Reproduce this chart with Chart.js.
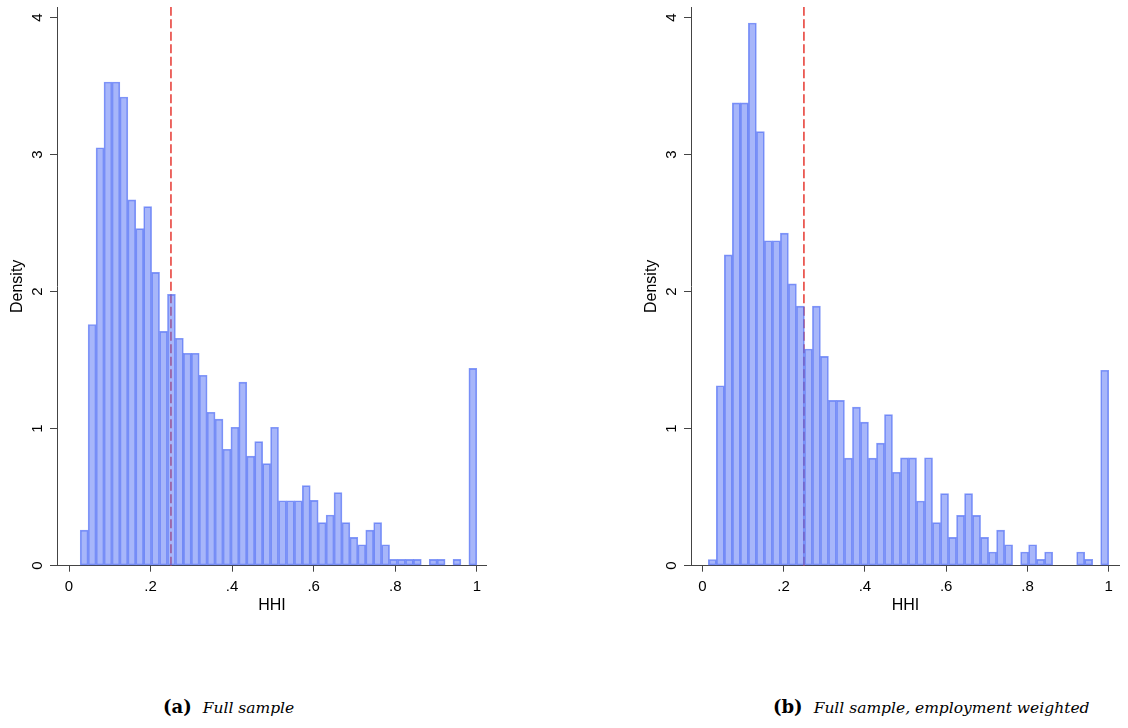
<!DOCTYPE html>
<html>
<head>
<meta charset="utf-8">
<script src="https://cdn.jsdelivr.net/npm/chart.js@4.4.1/dist/chart.umd.min.js"></script>
<style>
  body { margin: 0; background: #fff; width: 1128px; height: 728px; position: relative; overflow: hidden; }
  .panel { position: absolute; top: 0; }
  .caption { position: absolute; top: 697px; font-family: "DejaVu Serif", serif; font-size: 15.5px; line-height: 20px; color: #000; white-space: nowrap; }
  .caption b { font-size: 18px; margin-right: 11px; }
</style>
</head>
<body>
<canvas id="chartA" class="panel" style="left:0px" width="487" height="640"></canvas>
<canvas id="chartB" class="panel" style="left:634px" width="486" height="640"></canvas>
<div class="caption" style="left:163px"><b>(a)</b><i>Full sample</i></div>
<div class="caption" style="left:773px"><b>(b)</b><i>Full sample, employment weighted</i></div>
<script>
// histogram bins (HHI), density per bin
const hhiTicks = [0, 0.2, 0.4, 0.6, 0.8, 1];
const densityTicks = [0, 1, 2, 3, 4];
const cutoff = 0.25;

const binStartA = 0.0275, binWidthA = 0.01945;
const densityA = [0.26, 1.76, 3.05, 3.53, 3.53, 3.42, 2.67, 2.46, 2.62, 2.14,
                  1.71, 1.98, 1.66, 1.55, 1.55, 1.39, 1.12, 1.07, 0.85, 1.01,
                  1.34, 0.80, 0.905, 0.745, 1.01, 0.474, 0.474, 0.474, 0.584, 0.477,
                  0.314, 0.37, 0.533, 0.314, 0.207, 0.153, 0.26, 0.314, 0.153, 0.046,
                  0.046, 0.046, 0.046, 0, 0.046, 0.046, 0, 0.046, 0, 1.44];

const binStartB = 0.0148, binWidthB = 0.0197;
const densityB = [0.045, 1.313, 2.268, 3.377, 3.377, 3.96, 3.167, 2.371, 2.371, 2.427,
                  2.056, 1.894, 1.581, 1.894, 1.528, 1.207, 1.207, 0.785, 1.157, 1.048,
                  0.785, 0.894, 1.103, 0.682, 0.787, 0.787, 0.472, 0.788, 0.314, 0.526,
                  0.207, 0.367, 0.526, 0.367, 0.207, 0.10, 0.26, 0.153, 0, 0.10,
                  0.153, 0.046, 0.10, 0, 0, 0, 0.10, 0.046, 0, 1.426];

const yTop = 4.077;
const font = "'Liberation Sans', Arial, sans-serif";
const axisColor = "#444";

function hhiLabel(v) {
    if (v === 0) return "0";
    if (v === 1) return "1";
    return Number(v.toFixed(1)).toString().replace(/^0\./, ".");
}

function makeChart(id, binStart, binWidth, densities, xMin, xMax) {
    let bars = [];
    densities.forEach((d, i) => {
        if (d > 0) bars.push({ x: binStart + binWidth * (i + 0.5), y: d });
    });
    return new Chart(document.getElementById(id), {
        type: "bar",
        data: {
            datasets: [
                {
                    data: bars,
                    backgroundColor: "rgba(80,110,245,0.5)",
                    borderColor: "rgba(80,110,245,0.7)",
                    borderWidth: 1,
                    borderSkipped: false,
                    categoryPercentage: 1.0,
                    barPercentage: 1.0,
                    order: 0
                },
                {
                    type: "line",
                    data: [{ x: cutoff, y: 0 }, { x: cutoff, y: yTop }],
                    borderColor: "#e8433d",
                    borderWidth: 1.6,
                    borderDash: [9, 3.5],
                    pointRadius: 0,
                    order: 1
                }
            ]
        },
        options: {
            responsive: false,
            animation: false,
            devicePixelRatio: 1,
            layout: { padding: { top: 7, left: 0, right: 0, bottom: 0 } },
            plugins: { legend: { display: false }, tooltip: { enabled: false } },
            scales: {
                x: {
                    type: "linear",
                    offset: false,
                    min: xMin,
                    max: xMax,
                    afterBuildTicks: (s) => { s.ticks = hhiTicks.map(v => ({ value: v })); },
                    afterFit: (s) => { s.height = 74.3; s.paddingLeft = 0; s.paddingRight = 0; },
                    grid: { offset: false, drawOnChartArea: false, drawTicks: true, tickLength: 6, color: axisColor },
                    border: { display: true, color: axisColor, width: 1 },
                    ticks: {
                        callback: (v) => hhiLabel(v),
                        maxRotation: 0,
                        padding: 6,
                        color: "#000",
                        font: { family: font, size: 15 }
                    },
                    title: {
                        display: true,
                        text: "HHI",
                        color: "#000",
                        font: { family: font, size: 16 },
                        padding: { top: 0, bottom: 25 }
                    }
                },
                y: {
                    min: 0,
                    max: yTop,
                    afterBuildTicks: (s) => { s.ticks = densityTicks.map(v => ({ value: v })); },
                    afterFit: (s) => { s.width = 57; s.paddingTop = 0; s.paddingBottom = 0; },
                    grid: { drawOnChartArea: false, drawTicks: true, tickLength: 7, color: axisColor },
                    border: { display: true, color: axisColor, width: 1 },
                    ticks: {
                        minRotation: 90,
                        maxRotation: 90,
                        crossAlign: "center",
                        padding: 8,
                        color: "#000",
                        font: { family: font, size: 15 }
                    },
                    title: {
                        display: true,
                        text: "Density",
                        color: "#000",
                        font: { family: font, size: 16 },
                        padding: { top: 8, bottom: 0 }
                    }
                }
            }
        }
    });
}

makeChart("chartA", binStartA, binWidthA, densityA, -0.02945, 1.025);
makeChart("chartB", binStartB, binWidthB, densityB, -0.0278, 1.0276);
</script>
</body>
</html>
